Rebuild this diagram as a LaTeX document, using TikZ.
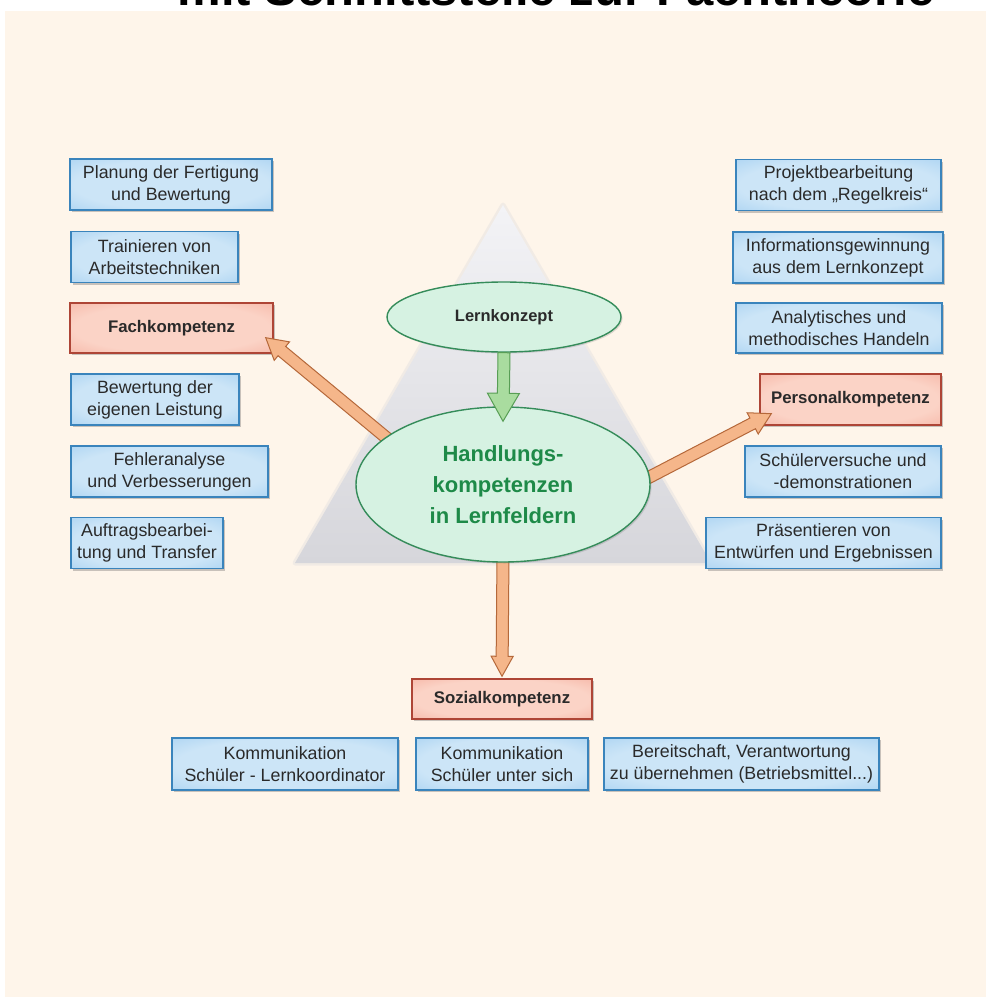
\documentclass[tikz,border=0pt]{standalone}
\usepackage{fontspec}
\setmainfont{Liberation Sans}
\usetikzlibrary{calc,shadows,shapes.geometric}

\definecolor{bgbeige}{HTML}{FEF5EA}
\definecolor{boxin}{HTML}{CCE5F7}
\definecolor{boxout}{HTML}{8FC4EE}
\definecolor{boxline}{HTML}{3A84BC}
\definecolor{redin}{HTML}{FBD3C6}
\definecolor{redout}{HTML}{F29E8C}
\definecolor{redline}{HTML}{AE4536}
\definecolor{ellin}{HTML}{D6F2E2}
\definecolor{ellout}{HTML}{9CDAB6}
\definecolor{ellline}{HTML}{358C5A}
\definecolor{elltext}{HTML}{1E8A48}
\definecolor{orfill}{HTML}{F5B68A}
\definecolor{orline}{HTML}{B5683A}
\definecolor{grfill}{HTML}{A9DC9F}
\definecolor{grline}{HTML}{589E55}
\definecolor{txt}{HTML}{2A2A2A}
\definecolor{triatop}{HTML}{F3F3F6}
\definecolor{triabot}{HTML}{D6D6DB}

\pgfdeclareradialshading{boxglow}{\pgfpoint{0bp}{0bp}}{color(0bp)=(boxin); color(24bp)=(boxin); color(50bp)=(boxout); color(72bp)=(boxout)}
\pgfdeclareradialshading{redglow}{\pgfpoint{0bp}{0bp}}{color(0bp)=(redin); color(24bp)=(redin); color(50bp)=(redout); color(72bp)=(redout)}
\pgfdeclareradialshading{ellglow}{\pgfpoint{0bp}{0bp}}{color(0bp)=(ellin); color(26bp)=(ellin); color(50bp)=(ellout); color(72bp)=(ellout)}

\pgfdeclarelayer{bg}
\pgfdeclarelayer{boxes}
\pgfdeclarelayer{conn}
\pgfsetlayers{bg,boxes,conn,main}

% fat arrow: #1 start, #2 tip, #3 shaft half width, #4 head half width, #5 head length, #6 style
\newcommand{\fatarrow}[6]{%
  \path[#6] let \p1=(#1), \p2=(#2), \n1={veclen(\x2-\x1,\y2-\y1)},
    \n2={(\x2-\x1)/\n1}, \n3={(\y2-\y1)/\n1} in
    ({\x1-(#3)*\n3*1pt},{\y1+(#3)*\n2*1pt})
 -- ({\x1+(\n1-#5)*\n2*1pt-(#3)*\n3*1pt},{\y1+(\n1-#5)*\n3*1pt+(#3)*\n2*1pt})
 -- ({\x1+(\n1-#5)*\n2*1pt-(#4)*\n3*1pt},{\y1+(\n1-#5)*\n3*1pt+(#4)*\n2*1pt})
 -- (\p2)
 -- ({\x1+(\n1-#5)*\n2*1pt+(#4)*\n3*1pt},{\y1+(\n1-#5)*\n3*1pt-(#4)*\n2*1pt})
 -- ({\x1+(\n1-#5)*\n2*1pt+(#3)*\n3*1pt},{\y1+(\n1-#5)*\n3*1pt-(#3)*\n2*1pt})
 -- ({\x1+(#3)*\n3*1pt},{\y1-(#3)*\n2*1pt})
 -- cycle;}

\tikzset{
  basetext/.style={font=\fontsize{17.8}{22}\selectfont, text=txt, align=center, inner sep=0pt},
  bluebox/.style={basetext, rectangle, draw=boxline, line width=1.4pt, shade, shading=boxglow,
    minimum height=51pt,
    drop shadow={shadow xshift=2pt, shadow yshift=-2pt, opacity=0.3, fill=black!70}},
  redbox/.style={bluebox, draw=redline, shading=redglow, font=\bfseries\fontsize{16.8}{20}\selectfont},
  ell/.style={ellipse, draw=ellline, line width=1.4pt, shade, shading=ellglow, inner sep=0pt, align=center,
    drop shadow={shadow xshift=1.5pt, shadow yshift=-1.5pt, opacity=0.18, fill=black!70}},
  orangearrow/.style={fill=orfill, draw=orline, line width=1pt, line join=miter},
  greenarrow/.style={fill=grfill, draw=grline, line width=1pt, line join=miter}
}

\begin{document}
\begin{tikzpicture}[x=1pt,y=-1pt]
\useasboundingbox (0,0) rectangle (986,998);

\begin{pgfonlayer}{bg}
  \fill[white] (0,0) rectangle (986,998);
  \fill[bgbeige] (5,11) rectangle (986,997);
  \node[font=\bfseries\fontsize{49}{49}\selectfont, anchor=base, text=black, inner sep=0pt] (title) at (556,6) {mit Schnittstelle zur Fachtheorie};
  \draw[triabot, line width=5pt, line join=round, opacity=0.3] (503,205) -- (711,563) -- (295,563) -- cycle;
  \shade[top color=triatop, bottom color=triabot] (503,205) -- (711,563) -- (295,563) -- cycle;
\end{pgfonlayer}

\begin{pgfonlayer}{boxes}
  % left column
  \node[bluebox, minimum width=202pt] (L1) at (171,184.5) {Planung der Fertigung\\und Bewertung};
  \node[bluebox, minimum width=167pt] (L2) at (154.5,257) {Trainieren von\\Arbeitstechniken};
  \node[redbox, minimum width=203pt, minimum height=50pt] (F) at (171.5,328) {Fachkompetenz};
  \node[bluebox, minimum width=168pt] (L4) at (155,399.5) {Bewertung der\\eigenen Leistung};
  \node[bluebox, minimum width=197pt] (L5) at (169.5,471.5) {Fehleranalyse\\und Verbesserungen};
  \node[bluebox, minimum width=152pt] (L6) at (147,543) {Auftragsbearbei-\\tung und Transfer};
  % right column
  \node[bluebox, minimum width=205pt] (R1) at (838.5,185) {Projektbearbeitung\\nach dem „Regelkreis“};
  \node[bluebox, minimum width=210pt] (R2) at (838,257.5) {Informationsgewinnung\\aus dem Lernkonzept};
  \node[bluebox, minimum width=206pt, minimum height=50pt] (R3) at (839,328) {Analytisches und\\methodisches Handeln};
  \node[redbox, minimum width=181pt] (P) at (850.5,399.5) {Personalkompetenz};
  \node[bluebox, minimum width=196pt] (R5) at (843,471.5) {Schülerversuche und\\-demonstrationen};
  \node[bluebox, minimum width=235pt] (R6) at (823.5,543) {Präsentieren von\\Entwürfen und Ergebnissen};
  % bottom
  \node[redbox, minimum width=180pt, minimum height=40pt] (S) at (502,699) {Sozialkompetenz};
  \node[bluebox, minimum width=226pt, minimum height=52pt] (B1) at (285,764) {Kommunikation\\Schüler - Lernkoordinator};
  \node[bluebox, minimum width=172pt, minimum height=52pt] (B2) at (502,764) {Kommunikation\\Schüler unter sich};
  \node[bluebox, minimum width=275pt, minimum height=52pt] (B3) at (741.5,764) {Bereitschaft, Verantwortung\\zu übernehmen (Betriebsmittel...)};
\end{pgfonlayer}

% ellipses (main layer, above connectors)
\node[ell, minimum width=234pt, minimum height=70pt, font=\bfseries\fontsize{16.5}{20}\selectfont, text=txt] (L) at (504,317) {Lernkonzept};
\node[ell, minimum width=294pt, minimum height=155pt, font=\bfseries\fontsize{22}{31}\selectfont, text=elltext] (H) at (503,484.5) {Handlungs-\\kompetenzen\\in Lernfeldern};

\begin{pgfonlayer}{conn}
  \coordinate (ftip) at ($(F.south east)+(-8,-16)$);
  \coordinate (fstart) at ($(H.158)!-12pt!(ftip)$);
  \fatarrow{fstart}{ftip}{6}{12}{21}{orangearrow}
  \coordinate (ptip) at ($(P.south west)+(12,-12)$);
  \coordinate (pstart) at ($(H.3)!-12pt!(ptip)$);
  \fatarrow{pstart}{ptip}{6}{12}{21}{orangearrow}
  \coordinate (sstart) at ($(H.south)+(0,-10)$);
  \coordinate (stip) at ($(S.north)+(0,-2)$);
  \fatarrow{sstart}{stip}{6}{11}{20}{orangearrow}
\end{pgfonlayer}

\coordinate (gtip) at ($(H.north)+(0,15)$);
\fatarrow{L.south}{gtip}{6}{16}{28}{greenarrow}

\end{tikzpicture}
\end{document}
